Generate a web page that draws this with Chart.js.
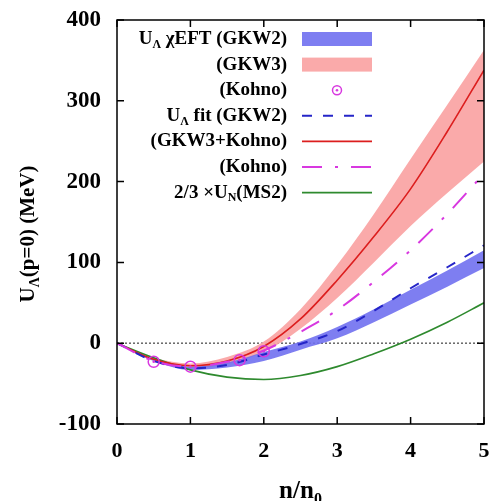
<!DOCTYPE html>
<html>
<head>
<meta charset="utf-8">
<script src="https://cdn.jsdelivr.net/npm/chart.js@4.4.0/dist/chart.umd.min.js"></script>
<style>
  body { margin: 0; background: #fff; }
</style>
</head>
<body>
<canvas id="uChart" width="489" height="501"></canvas>
<script>
// density grid n/n0 and curves (MeV)
const density = [0, 0.5, 1, 1.5, 2, 2.5, 3, 3.5, 4, 4.5, 5];

const gkw2High = [0, -19, -29, -24, -11, 2, 20, 42, 66, 90, 115];
const gkw2Low = [0, -22, -33, -30, -22, -8, 6, 26, 48, 70, 93];
const gkw3High = [0, -18, -25, -17, 2, 42, 97, 160, 228, 295, 363];
const gkw3Low = [0, -22, -31, -26, -11, 18, 56, 100, 145, 186, 225];

const fitGkw2 = [0, -22, -31, -27, -14, -1, 15, 40, 68, 94, 121];
const fitGkw3Kohno = [0, -20, -28, -22, -4, 30, 78, 132, 191, 262, 338];
const fitKohno = [0, -22, -29, -23, -9, 14, 41, 76, 115, 160, 210];
const nucleonMS2 = [0, -18, -33, -42, -45, -40, -29, -13, 5, 26, 50];

const kohnoDensity = [0.5, 1, 1.67, 2];
const kohnoU = [-23, -29, -21, -10];

const xTicks = [0, 1, 2, 3, 4, 5];
const yTicks = [-100, 0, 100, 200, 300, 400];

const yTitle = [["U"], ["Λ", 1], ["(p=0) (MeV)"]];
const xTitle = [["n/n"], ["0", 1]];
const legendLabels = [
  [["U"], ["Λ", 1], [" χEFT (GKW2)"]],
  [["(GKW3)"]],
  [["(Kohno)"]],
  [["U"], ["Λ", 1], [" fit (GKW2)"]],
  [["(GKW3+Kohno)"]],
  [["(Kohno)"]],
  [["2/3 ×U"], ["N", 1], ["(MS2)"]]
];

const SERIF = "'Liberation Serif', 'Times New Roman', serif";
const BLUE_BAND = "rgba(112, 112, 240, 0.9)";
const RED_BAND = "rgba(250, 165, 165, 0.95)";
const BLUE = "#2525c8";
const RED = "#dc1e1e";
const MAGENTA = "#d838e0";
const GREEN = "#2e8a2e";

function pts(xs, ys) {
  return xs.map((x, i) => ({ x: x, y: ys[i] }));
}

function richWidth(ctx, parts, size) {
  let w = 0;
  for (const p of parts) {
    ctx.font = "bold " + (p[1] ? Math.round(size * 0.65) : size) + "px " + SERIF;
    w += ctx.measureText(p[0]).width;
  }
  return w;
}

function drawRich(ctx, parts, x, y, size, align) {
  let cx = align === "right" ? x - richWidth(ctx, parts, size) :
           align === "center" ? x - richWidth(ctx, parts, size) / 2 : x;
  ctx.textAlign = "left";
  ctx.textBaseline = "middle";
  for (const p of parts) {
    ctx.font = "bold " + (p[1] ? Math.round(size * 0.65) : size) + "px " + SERIF;
    ctx.fillText(p[0], cx, p[1] ? y + size * 0.3 : y);
    cx += ctx.measureText(p[0]).width;
  }
}

const frameAndText = {
  id: "frameAndText",
  beforeDatasetsDraw(chart) {
    const { ctx, scales: { x, y } } = chart;
    ctx.save();
    ctx.strokeStyle = "#666";
    ctx.lineWidth = 1.5;
    ctx.setLineDash([2, 2]);
    ctx.beginPath();
    ctx.moveTo(x.getPixelForValue(0), y.getPixelForValue(0));
    ctx.lineTo(x.getPixelForValue(5), y.getPixelForValue(0));
    ctx.stroke();
    ctx.restore();
  },
  afterDraw(chart) {
    const { ctx, chartArea: { top, bottom, left, right }, scales: { x, y } } = chart;
    ctx.save();
    ctx.strokeStyle = "#000";
    ctx.lineWidth = 1.5;
    ctx.strokeRect(left, top, right - left, bottom - top);
    ctx.beginPath();
    for (const v of xTicks) {
      const px = x.getPixelForValue(v);
      ctx.moveTo(px, bottom); ctx.lineTo(px, bottom - 7);
      ctx.moveTo(px, top); ctx.lineTo(px, top + 7);
    }
    for (const v of yTicks) {
      const py = y.getPixelForValue(v);
      ctx.moveTo(left, py); ctx.lineTo(left + 7, py);
      ctx.moveTo(right, py); ctx.lineTo(right - 7, py);
    }
    ctx.stroke();

    // axis titles
    ctx.fillStyle = "#000";
    drawRich(ctx, xTitle, (left + right) / 2, 492, 25, "center");
    ctx.save();
    ctx.translate(29, 234);
    ctx.rotate(-Math.PI / 2);
    drawRich(ctx, yTitle, 0, 0, 21, "center");
    ctx.restore();

    // legend
    const textRight = 287, s0 = 302, s1 = 372;
    for (let i = 0; i < legendLabels.length; i++) {
      const ry = 39 + i * 25.6;
      ctx.fillStyle = "#000";
      drawRich(ctx, legendLabels[i], textRight, ry, 19, "right");
      ctx.setLineDash([]);
      if (i === 0 || i === 1) {
        ctx.fillStyle = i === 0 ? BLUE_BAND : RED_BAND;
        ctx.fillRect(s0, ry - 7, s1 - s0, 14);
      } else if (i === 2) {
        ctx.strokeStyle = MAGENTA; ctx.lineWidth = 1.5;
        ctx.beginPath(); ctx.arc((s0 + s1) / 2, ry, 4.5, 0, Math.PI * 2); ctx.stroke();
        ctx.fillStyle = MAGENTA;
        ctx.beginPath(); ctx.arc((s0 + s1) / 2, ry, 1.3, 0, Math.PI * 2); ctx.fill();
      } else {
        const st = [null, null, null, [BLUE, [10, 11]], [RED, []], [MAGENTA, [20, 13, 3, 13]], [GREEN, []]][i];
        ctx.strokeStyle = st[0];
        ctx.lineWidth = i === 3 || i === 5 ? 2 : 1.6;
        ctx.setLineDash(st[1]);
        ctx.beginPath(); ctx.moveTo(s0, ry); ctx.lineTo(s1, ry); ctx.stroke();
      }
    }
    ctx.restore();
  }
};

const lineDs = (label, ys, color, dash, width, order) => ({
  label: label,
  data: pts(density, ys),
  borderColor: color,
  borderWidth: width,
  borderDash: dash,
  pointRadius: 0,
  cubicInterpolationMode: "monotone",
  fill: false,
  order: order
});

const bandDs = (label, ys, color, fill, order) => ({
  label: label,
  data: pts(density, ys),
  borderWidth: 0,
  borderColor: "rgba(0,0,0,0)",
  backgroundColor: color,
  pointRadius: 0,
  cubicInterpolationMode: "monotone",
  fill: fill,
  order: order
});

const uChart = new Chart(document.getElementById("uChart"), {
  type: "line",
  data: {
    datasets: [
      bandDs("GKW3 high", gkw3High, RED_BAND, "+1", 10),
      bandDs("GKW3 low", gkw3Low, RED_BAND, false, 10),
      bandDs("GKW2 high", gkw2High, BLUE_BAND, "+1", 9),
      bandDs("GKW2 low", gkw2Low, BLUE_BAND, false, 9),
      lineDs("fit GKW2", fitGkw2, BLUE, [10, 11], 2, 3),
      lineDs("fit GKW3+Kohno", fitGkw3Kohno, RED, [], 1.6, 4),
      lineDs("fit Kohno", fitKohno, MAGENTA, [20, 13, 3, 13], 2, 2),
      lineDs("MS2", nucleonMS2, GREEN, [], 1.6, 5),
      {
        label: "Kohno",
        type: "scatter",
        data: pts(kohnoDensity, kohnoU),
        pointRadius: 5.5,
        borderColor: MAGENTA,
        borderWidth: 1.5,
        backgroundColor: "rgba(0,0,0,0)",
        order: 0
      },
      {
        label: "Kohno dot",
        type: "scatter",
        data: pts(kohnoDensity, kohnoU),
        pointRadius: 1.3,
        borderWidth: 0,
        backgroundColor: MAGENTA,
        order: 0
      }
    ]
  },
  plugins: [frameAndText],
  options: {
    responsive: false,
    animation: false,
    layout: { autoPadding: false, padding: { top: 20, right: 5, left: 0, bottom: 0 } },
    plugins: {
      legend: { display: false },
      tooltip: { enabled: false }
    },
    scales: {
      x: {
        type: "linear",
        min: 0,
        max: 5,
        afterFit: (s) => { s.height = 77; s.paddingLeft = 0; s.paddingRight = 0; },
        afterBuildTicks: (s) => { s.ticks = xTicks.map(v => ({ value: v })); },
        grid: { display: false, drawTicks: false },
        border: { display: false },
        ticks: {
          color: "#000",
          padding: 14,
          font: { family: SERIF, weight: "bold", size: 22 }
        }
      },
      y: {
        min: -100,
        max: 400,
        afterFit: (s) => { s.width = 117; s.paddingTop = 0; s.paddingBottom = 0; },
        afterBuildTicks: (s) => { s.ticks = yTicks.map(v => ({ value: v })); },
        grid: { display: false, drawTicks: false },
        border: { display: false },
        ticks: {
          color: "#000",
          padding: 16,
          font: { family: SERIF, weight: "bold", size: 23 }
        }
      }
    }
  }
});
</script>
</body>
</html>
